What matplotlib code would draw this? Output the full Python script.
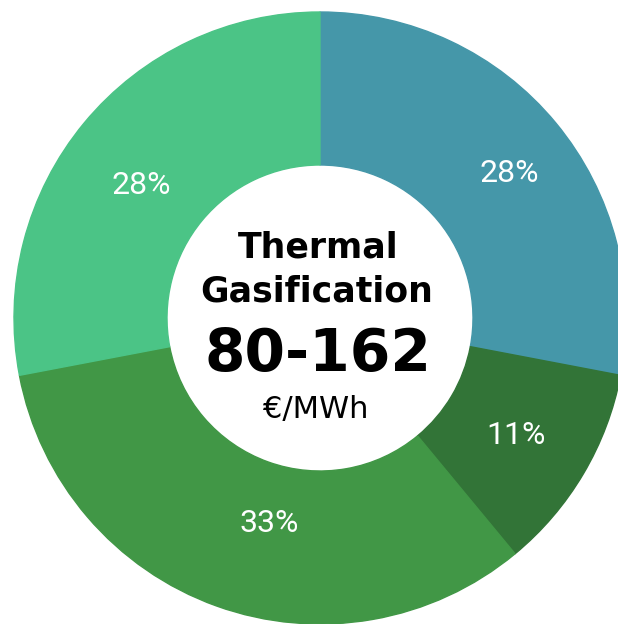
# donut chart: cost share breakdown for thermal gasification

import matplotlib
matplotlib.use('Agg')
import matplotlib.pyplot as plt

shares = [28, 11, 33, 28]  # clockwise from 12 o'clock
colors = ['#4597a9', '#327437', '#419746', '#4bc486']
title_lines = ['Thermal', 'Gasification']
price_range = '80-162'
unit = '€/MWh'

W, H = 618, 624
cx, cy = 320, H - 318
r_out = 306

fig = plt.figure(figsize=(W / 100, H / 100), dpi=100)
ax = fig.add_axes([0, 0, 1, 1])

wedges, texts, autotexts = ax.pie(
    shares, colors=colors, startangle=90, counterclock=False,
    center=(cx, cy), radius=r_out,
    wedgeprops=dict(width=r_out / 2, linewidth=1),
    autopct='%d%%', pctdistance=0.74,
    textprops=dict(color='white', fontsize=23, family='Roboto'))
for w in wedges:
    w.set_edgecolor(w.get_facecolor())

# the original labels sit a bit off the wedge mid-angles
nudges = [(15, 0), (1, -2), (26, 8), (-4, -12)]
for t, (dx, dy) in zip(autotexts, nudges):
    x, y = t.get_position()
    t.set_position((x + dx, y + dy))

ax.set_xlim(0, W)
ax.set_ylim(0, H)
ax.axis('off')

# centre text (y given as pixel distance from the top)
ax.text(cx - 2, H - 257, title_lines[0], ha='center', va='baseline',
        fontsize=25, fontweight='bold', family='DejaVu Sans')
ax.text(cx - 3, H - 302, title_lines[1], ha='center', va='baseline',
        fontsize=25, fontweight='bold', family='DejaVu Sans')
ax.text(cx - 2, H - 371, price_range, ha='center', va='baseline',
        fontsize=42, fontweight='bold', family='DejaVu Sans')
ax.text(cx - 4, H - 418, unit, ha='center', va='baseline',
        fontsize=22, family='DejaVu Sans')

fig.savefig('out.png', dpi=100)
